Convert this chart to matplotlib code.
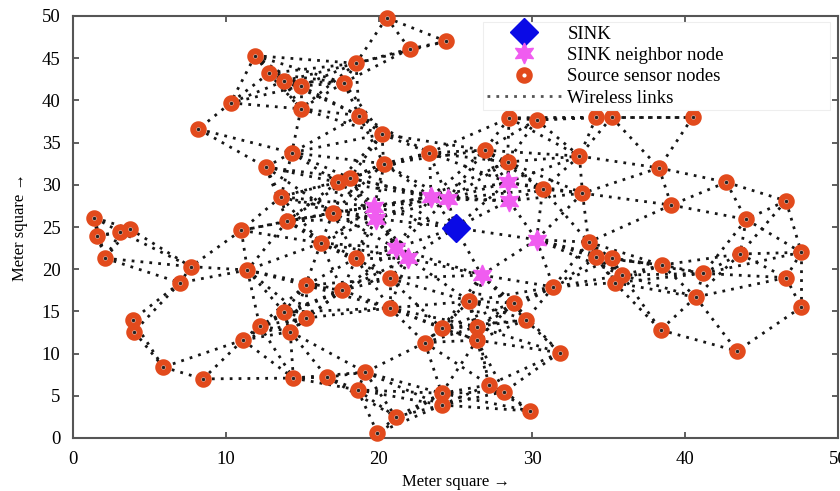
import matplotlib
matplotlib.use("Agg")
import matplotlib.pyplot as plt
import numpy as np

plt.rcParams['font.family'] = ['Liberation Serif', 'DejaVu Serif']

# 汇聚节点
sink_x = [25.0]
sink_y = [24.9]

# 汇聚节点的邻居节点
nbr_x = [19.7, 19.8, 23.4, 24.5, 28.4, 28.5, 21.1, 21.9, 30.3, 26.7]
nbr_y = [27.4, 26.0, 28.6, 28.3, 30.3, 28.1, 22.5, 21.3, 23.5, 19.3]

# 源传感器节点
src_x = [20.5, 22.0, 24.4, 11.9, 12.8, 13.8, 14.9, 18.5, 17.7, 10.3,
         14.9, 18.7, 8.2, 20.2, 14.3, 23.3, 12.6, 20.3, 17.3, 18.1,
         13.6, 17.0, 14.0, 1.4, 1.6, 3.1, 3.7, 2.1, 11.0, 16.2,
         18.5, 7.7, 11.4, 7.0, 15.2, 17.6, 20.7, 13.8, 15.2, 14.2,
         12.2, 11.1, 20.7, 24.1, 23.0, 3.9, 4.0, 5.9, 8.5, 14.4,
         16.6, 19.1, 18.6, 24.1, 24.1, 21.1, 19.9, 28.5, 30.3, 34.2,
         35.2, 40.5, 26.9, 28.4, 33.1, 38.3, 42.7, 46.6, 30.7, 33.3,
         39.1, 44.0, 33.7, 34.2, 35.2, 38.5, 41.2, 43.6, 47.6, 46.6,
         47.6, 35.9, 35.4, 40.7, 38.4, 43.4, 31.4, 25.9, 28.8, 29.6,
         26.4, 26.4, 31.8, 27.2, 28.2, 29.9]
src_y = [49.8, 46.1, 47.0, 45.3, 43.2, 42.3, 41.7, 44.4, 42.1, 39.7,
         39.0, 38.2, 36.6, 36.0, 33.8, 33.8, 32.1, 32.5, 30.3, 30.8,
         28.6, 26.7, 25.7, 26.1, 23.9, 24.4, 24.8, 21.3, 24.6, 23.1,
         21.3, 20.3, 19.9, 18.4, 18.1, 17.5, 18.9, 14.9, 14.2, 12.6,
         13.3, 11.6, 15.4, 13.0, 11.3, 14.0, 12.6, 8.4, 7.0, 7.1,
         7.2, 7.8, 5.7, 5.3, 3.9, 2.5, 0.6, 37.9, 37.7, 38.0,
         38.0, 38.0, 34.1, 32.7, 33.4, 32.0, 30.3, 28.1, 29.5, 29.0,
         27.6, 25.9, 23.2, 21.4, 21.3, 20.5, 19.5, 21.8, 22.0, 19.0,
         15.5, 19.3, 18.4, 16.7, 12.8, 10.3, 17.9, 16.2, 16.0, 14.0,
         13.2, 11.6, 10.1, 6.3, 5.5, 3.2]

# 无线通信半径
RADIO_RANGE = 7.0

labels = ["SINK", "SINK neighbor node", "Source sensor nodes", "Wireless links"]
x_ticks = [0, 10, 20, 30, 40, 50]
y_ticks = [0, 5, 10, 15, 20, 25, 30, 35, 40, 45, 50]

fig = plt.figure(figsize=(8.4, 4.91), dpi=100)
ax = fig.add_axes([73 / 840, 1 - 438 / 491, 765 / 840, 422 / 491])

# 所有节点坐标，用于计算链路
all_x = np.array(sink_x + nbr_x + src_x)
all_y = np.array(sink_y + nbr_y + src_y)

link_style = dict(color="#161616", linewidth=2.0, linestyle=(0, (1.0, 2.2)), zorder=1)
n = len(all_x)
for i in range(n):
    for j in range(i + 1, n):
        d = np.hypot(all_x[i] - all_x[j], all_y[i] - all_y[j])
        if d <= RADIO_RANGE:
            ax.plot([all_x[i], all_x[j]], [all_y[i], all_y[j]], **link_style)

# 源节点
ax.plot(src_x, src_y, 'o', color="#e24a1c", markerfacecolor="white", markeredgecolor="#e24a1c",
        markersize=7.5, markeredgewidth=4.4, zorder=3, clip_on=False)
ax.plot(src_x, src_y, '.', color="#222222", markersize=3, zorder=4, clip_on=False)
# 邻居节点
ax.plot(nbr_x, nbr_y, linestyle='none', marker=(6, 1, 0), color="#f05cf0", markersize=15,
        markeredgecolor="#f05cf0", zorder=3)
# 汇聚节点
ax.plot(sink_x, sink_y, 'D', color="#0a0ae6", markersize=14, zorder=5)

# 图例（比内容更宽的框）
h_sink, = ax.plot([], [], 'D', color="#0a0ae6", markersize=14)
h_nbr, = ax.plot([], [], linestyle='none', marker=(6, 1, 0), color="#f05cf0", markersize=15)
h_src, = ax.plot([], [], 'o', markerfacecolor="white", markeredgecolor="#e24a1c",
                 markersize=7.5, markeredgewidth=4.4)
h_link, = ax.plot([], [], color="#555555", linewidth=2.0, linestyle=(0, (1.0, 2.2)))
leg = ax.legend([h_sink, h_nbr, h_src, h_link], labels, loc="upper left",
                bbox_to_anchor=(0.536, 0.0, 0.454, 0.986), mode="expand", fontsize=13.5,
                handlelength=4.0, labelspacing=0.22, borderpad=0.2, handletextpad=0.3,
                borderaxespad=0.0, fancybox=False, framealpha=1)
leg.get_frame().set_edgecolor("#eeeeee")
leg.get_frame().set_linewidth(0.8)
leg.set_zorder(10)

ax.set_xlim(0, 50)
ax.set_ylim(0, 50)
ax.set_xticks(x_ticks)
ax.set_yticks(y_ticks)
ax.tick_params(direction="in", top=True, right=True, length=4, width=1.2, labelsize=13.5,
               color="#444444", pad=9)
for s in ax.spines.values():
    s.set_color("#555555")
    s.set_linewidth(1.5)

ax.set_xlabel("Meter square \u2192", fontsize=12, labelpad=5)
ax.set_ylabel("Meter square \u2192", fontsize=12, labelpad=10)

fig.savefig("out.png", dpi=100)
